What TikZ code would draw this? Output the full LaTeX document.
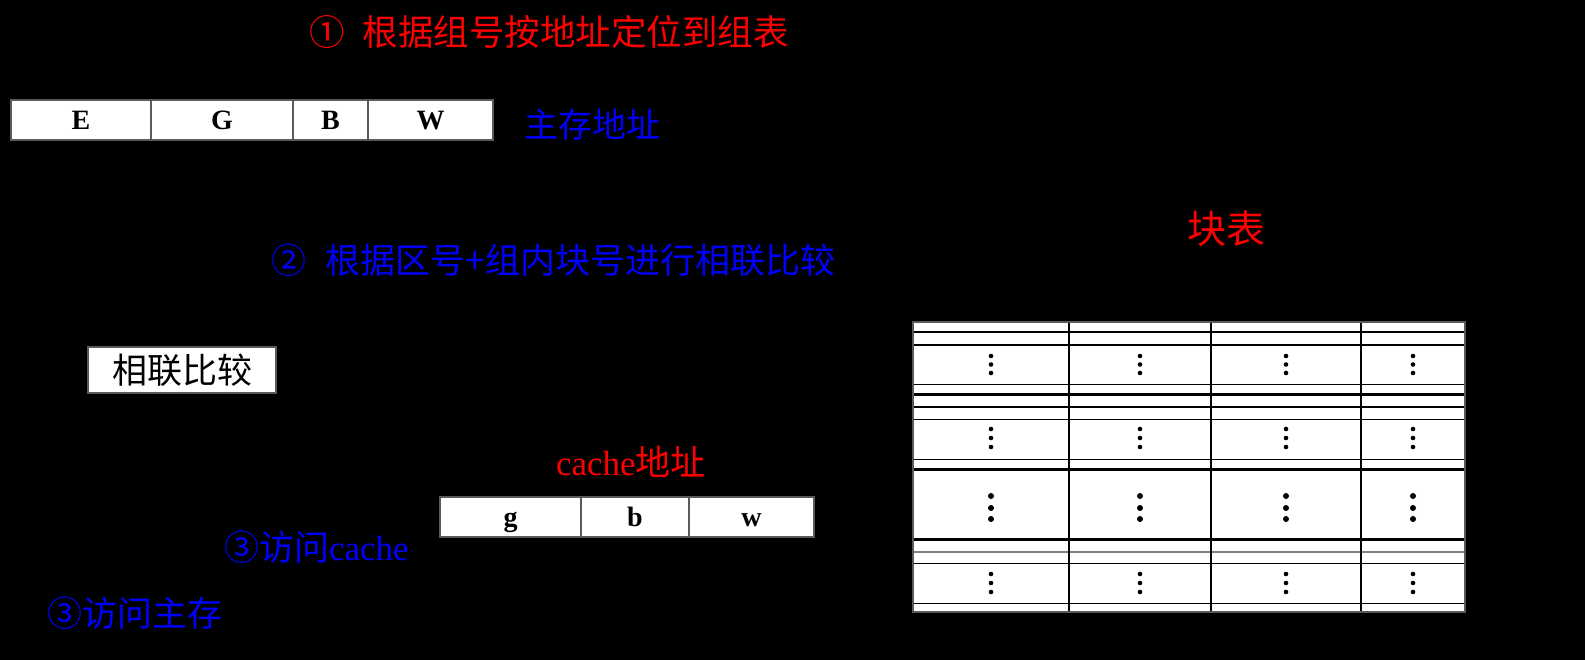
\documentclass[tikz,border=0pt]{standalone}
\usepackage{fontspec}
\setmainfont{Liberation Serif}
\newfontfamily\cjk{Noto Sans CJK SC}
\definecolor{myblue}{RGB}{0,0,255}
\definecolor{myred}{RGB}{255,0,0}
\definecolor{bordergray}{RGB}{90,90,90}
\begin{document}
\begin{tikzpicture}[x=1pt,y=-1pt,
  addr/.style={draw=bordergray, line width=1.2pt, fill=white, inner sep=0pt, outer sep=0pt,
    anchor=north west, minimum height=40pt, font=\fontsize{28}{30}\selectfont\bfseries,
    text height=20pt, text depth=0pt},
  caddr/.style={addr, text height=18pt},
  lbl/.style={inner sep=0pt, outer sep=0pt, anchor=west},
  hdr/.style={inner sep=0pt, outer sep=0pt, text=black},
  grp/.style={lbl, text=black, font=\fontsize{23}{25}\selectfont},
  dotS/.style={fill=black},
]
\fill[black] (0,0) rectangle (1585,660);
\useasboundingbox (0,0) rectangle (1585,660);

% title 1
\node[lbl, text=myred, font=\cjk\fontsize{35.5}{38}\selectfont] (t1) at (309,32) {①\hspace{18pt}根据组号按地址定位到组表};

% main memory address
\node[addr, minimum width=140pt] (aE) at (11,100) {E};
\node[addr, minimum width=142pt] (aG) at (151,100) {G};
\node[addr, minimum width=75pt] (aB) at (293,100) {B};
\node[addr, minimum width=125pt] (aW) at (368,100) {W};
\node[lbl, text=myblue, font=\cjk\fontsize{34}{36}\selectfont] (mm) at (524,125) {主存地址};

% step 2
\node[lbl, text=myblue, font=\cjk\fontsize{35}{38}\selectfont] (t2) at (271,260) {②\hspace{20pt}根据区号+组内块号进行相联比较};

% compare box
\node[draw=bordergray, line width=1.2pt, fill=white, inner sep=0pt, outer sep=0pt, anchor=north west,
  minimum width=188pt, minimum height=46pt, font=\cjk\fontsize{35}{38}\selectfont] (cmp) at (88,347) {相联比较};

\node[lbl, text=black, font=\cjk\fontsize{35}{38}\selectfont] (nomatch) at (20,455) {不相符};
\node[lbl, text=black, font=\cjk\fontsize{33}{36}\selectfont] (match) at (240,450) {相符};

% cache address
\node[lbl, text=myred, font=\fontsize{35}{37}\selectfont] (ca) at (556,462) {cache{\cjk 地址}};
\node[caddr, minimum width=141pt] (cg) at (440,497) {g};
\node[caddr, minimum width=108pt] (cb) at (581,497) {b};
\node[caddr, minimum width=125pt] (cw) at (689,497) {w};

\node[lbl, text=myblue, font=\fontsize{35}{38}\selectfont] (acc) at (224,547) {{\cjk ③访问}cache};
\node[lbl, text=myblue, font=\cjk\fontsize{35}{38}\selectfont] (acm) at (47,613) {③访问主存};

% block table
\node[lbl, text=myred, font=\cjk\fontsize{39}{41}\selectfont] (bt) at (1187,229) {块表};

\node[hdr, font=\fontsize{30}{32}\selectfont] (hE) at (991,300) {E};
\node[hdr, font=\fontsize{30}{32}\selectfont] (hB) at (1140,300) {B};
\node[hdr, font=\fontsize{30}{32}\selectfont] (hb) at (1286,300) {b};
\node[hdr, font=\cjk\fontsize{30}{32}\selectfont] (hV) at (1413,300) {有效位};

\fill[white] (913,322) rectangle (1465,612);
\foreach \y in {332,345,384.5,407,419.5,459.5,563.5,603.5}
  \draw[line width=1.3pt] (913,\y) -- (1465,\y);
\foreach \y in {394.5,469.5,539.5}
  \draw[line width=2.4pt] (913,\y) -- (1465,\y);
\draw[line width=2pt, gray] (913,551.5) -- (1465,551.5);
\foreach \x in {1069,1211,1361}
  \draw[line width=2pt] (\x,322) -- (\x,612);
\draw[bordergray, line width=1.2pt] (913,322) rectangle (1465,612);

\foreach \x in {991,1140,1286,1413} {
  \foreach \y in {356,364.5,373,429,438,447,574,583,592}
    \fill[dotS] (\x,\y) circle[radius=2.3pt];
  \foreach \y in {496,508,519}
    \fill[dotS] (\x,\y) circle[radius=3pt];
}

\node[grp] (g0) at (1489,357) {{\cjk 组表}0};
\node[grp] (g1) at (1489,433) {{\cjk 组表}1};
\node[grp] (gn) at (1489,577) {{\cjk 组表}2\textsuperscript{u}-1};
\end{tikzpicture}
\end{document}
